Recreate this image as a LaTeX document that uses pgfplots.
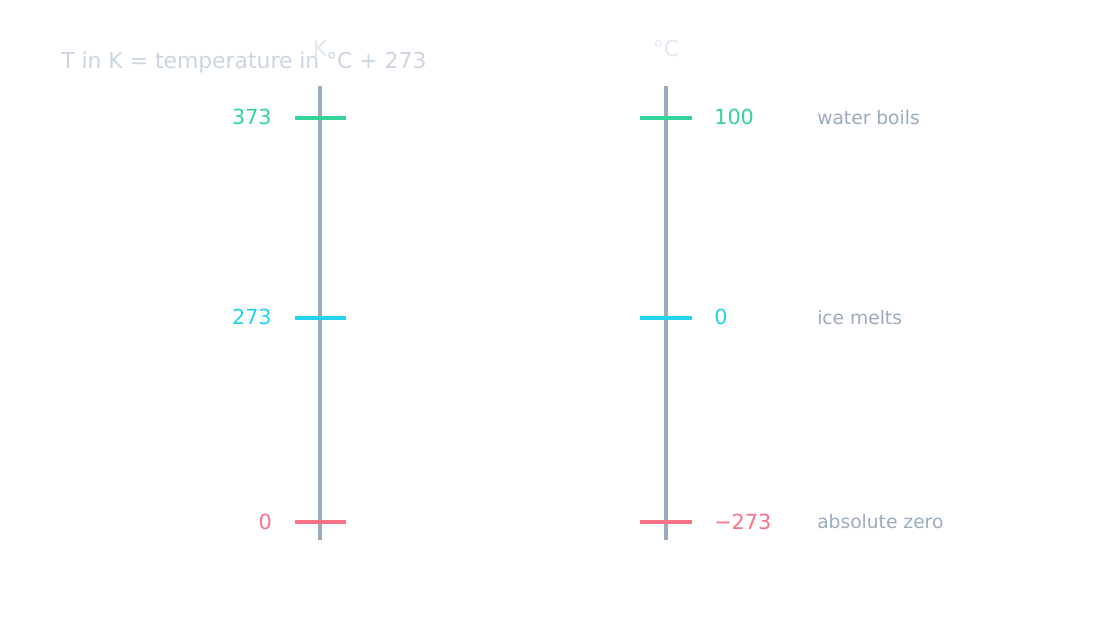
\documentclass[border=0pt]{standalone}
\usepackage{pgfplots}
\pgfplotsset{compat=1.18}
\usepackage{fontspec}
\setmainfont{DejaVu Sans}
\definecolor{axisgray}{HTML}{9AAABF}
\definecolor{labgray}{HTML}{9AAABF}
\definecolor{titlegray}{HTML}{CBD5E1}
\definecolor{unitgray}{HTML}{E2E8F0}
\definecolor{cgreen}{HTML}{34D399}
\definecolor{ccyan}{HTML}{22D3EE}
\definecolor{cred}{HTML}{FB7185}
\newcommand{\numfont}{\fontsize{15.6}{18}\selectfont}
\newcommand{\labfont}{\fontsize{14}{17}\selectfont}
\begin{document}
\begin{tikzpicture}
\begin{axis}[width=837pt,height=477pt,scale only axis,
  xmin=0,xmax=1116,ymin=0,ymax=636,hide axis,clip=false]
\path (axis cs:0,0) rectangle (axis cs:1116,636);
% scales
\addplot[axisgray,line width=3pt] coordinates {(320,96) (320,550)};
\addplot[axisgray,line width=3pt] coordinates {(666,96) (666,550)};
% ticks K
\addplot[cgreen,line width=3pt] coordinates {(295,518) (346,518)};
\addplot[ccyan,line width=3pt] coordinates {(295,318) (346,318)};
\addplot[cred,line width=3pt] coordinates {(295,114) (346,114)};
% ticks C
\addplot[cgreen,line width=3pt] coordinates {(640,518) (692,518)};
\addplot[ccyan,line width=3pt] coordinates {(640,318) (692,318)};
\addplot[cred,line width=3pt] coordinates {(640,114) (692,114)};
% labels
\node[anchor=east,inner sep=0pt,text=cgreen,font=\numfont] at (axis cs:272,519) {373};
\node[anchor=east,inner sep=0pt,text=ccyan,font=\numfont] at (axis cs:272,319) {273};
\node[anchor=east,inner sep=0pt,text=cred,font=\numfont] at (axis cs:272,114) {0};
\node[anchor=west,inner sep=0pt,text=cgreen,font=\numfont] at (axis cs:714,519) {100};
\node[anchor=west,inner sep=0pt,text=ccyan,font=\numfont] at (axis cs:714,319) {0};
\node[anchor=west,inner sep=0pt,text=cred,font=\numfont] at (axis cs:714,114) {−273};
\node[anchor=west,inner sep=0pt,text=labgray,font=\labfont] at (axis cs:817,518) {water boils};
\node[anchor=west,inner sep=0pt,text=labgray,font=\labfont] at (axis cs:817,318) {ice melts};
\node[anchor=west,inner sep=0pt,text=labgray,font=\labfont] at (axis cs:817,114) {absolute zero};
% title and units
\node[anchor=base west,inner sep=0pt,text=titlegray,font=\fontsize{16.4}{20}\selectfont] at (axis cs:61,567) {T in K = temperature in °C + 273};
\node[anchor=base,inner sep=0pt,text=unitgray,font=\fontsize{16.4}{20}\selectfont] at (axis cs:320,579) {K};
\node[anchor=base,inner sep=0pt,text=unitgray,font=\fontsize{16.4}{20}\selectfont] at (axis cs:666,579) {°C};
\end{axis}
\end{tikzpicture}
\end{document}
